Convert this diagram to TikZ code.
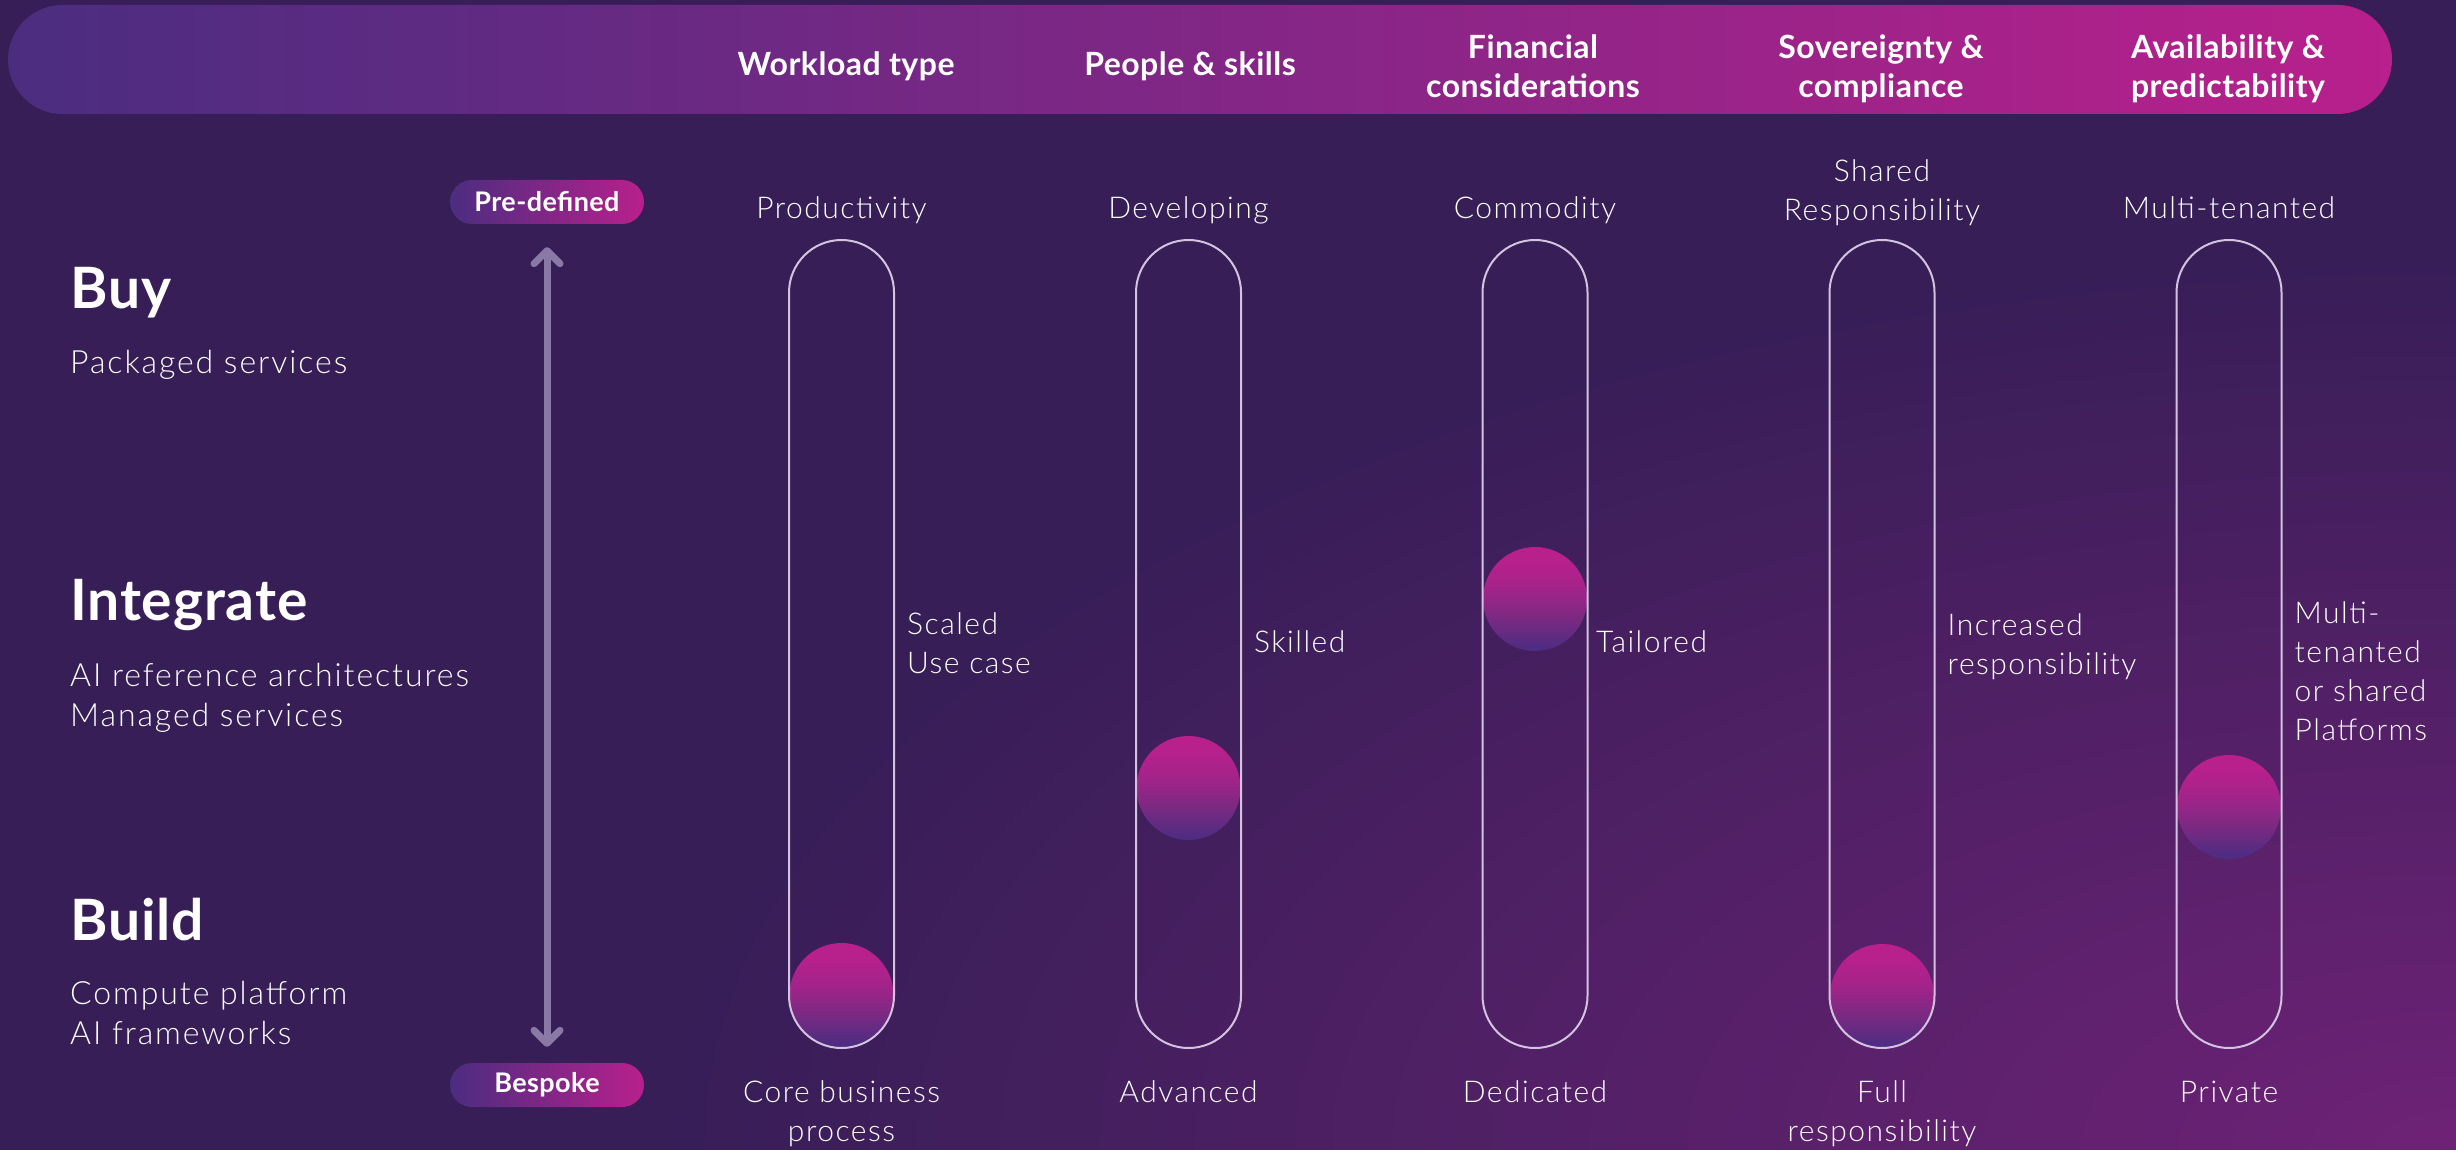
\documentclass[tikz,border=0pt]{standalone}
\usepackage{fontspec}
\setmainfont{Lato}[LetterSpace=1.5]
\newfontfamily\lightf{Lato Light}[LetterSpace=5]
\newfontfamily\lightg{Lato Light}[LetterSpace=6]
\usetikzlibrary{arrows.meta}
\definecolor{bgA}{HTML}{371E57}
\definecolor{bgB}{HTML}{6E2276}
\definecolor{gradL}{HTML}{4B2D80}
\definecolor{gradR}{HTML}{B8208C}
\definecolor{ballT}{HTML}{B8208C}
\definecolor{ballU}{HTML}{A5238A}
\definecolor{ballM}{HTML}{7E2982}
\definecolor{ballB}{HTML}{4A2D82}
\definecolor{pillline}{HTML}{D2C4DE}
\definecolor{arrowc}{HTML}{8A78A6}
\pgfdeclareverticalshading{ballshade}{100bp}{color(0bp)=(ballB); color(25bp)=(ballB); color(42bp)=(ballM); color(56bp)=(ballU); color(68bp)=(ballT); color(100bp)=(ballT)}
\begin{document}
\begin{tikzpicture}[x=1pt,y=-1pt,
 hdr/.style={font=\bfseries\fontsize{32}{39}\selectfont, text=white, inner sep=0pt, align=center, anchor=north, execute at begin node=\strut},
 lbl/.style={font=\lightf\fontsize{30}{39}\selectfont, text=white, inner sep=0pt, align=center, anchor=north, execute at begin node=\strut},
 sidelbl/.style={lbl, align=left, anchor=north west},
 tier/.style={font=\bfseries\fontsize{57}{68}\selectfont, text=white, inner sep=0pt, anchor=base west},
 tiersub/.style={font=\lightg\fontsize{32}{40}\selectfont, text=white, inner sep=0pt, align=left, anchor=north west, execute at begin node=\strut},
 tag/.style={rectangle, rounded corners=22pt, minimum width=194pt, minimum height=44pt, inner sep=0pt, left color=gradL, right color=gradR, text=white, font=\bfseries\fontsize{27}{30}\selectfont},
 tube/.style={draw=pillline, line width=2pt, rectangle, rounded corners=52.5pt, minimum width=105pt, minimum height=808pt, inner sep=0pt},
 ball/.style={circle, minimum size=104pt, inner sep=0pt, shade, shading=ballshade},
 scalearrow/.style={draw=arrowc, line width=7pt, line cap=round, {Straight Barb[round,length=13pt,width=26pt]}-{Straight Barb[round,length=13pt,width=26pt]}}
]
\useasboundingbox (0,0) rectangle (2456,1150);
% background
\fill[bgA] (0,0) rectangle (2456,1150);
\begin{scope}
\clip (0,0) rectangle (2456,1150);
\shade[inner color=bgB, outer color=bgA] (2456,1150) ellipse [x radius=1800pt, y radius=900pt];
\end{scope}

% header bar
\node[rectangle, rounded corners=54.5pt, minimum width=2384pt, minimum height=109pt, inner sep=0pt, left color=gradL, right color=gradR] (bar) at (1200,59.5) {};
\node[hdr] (hWork) at (846,48.4) {Workload type};
\node[hdr] (hPeople) at (1190,48.4) {People \& skills};
\node[hdr] (hFin) at (1533,35) {Financial\\considerations};
\node[hdr] (hSov) at (1881,35) {Sovereignty \&\\compliance};
\node[hdr] (hAvail) at (2228,35) {Availability \&\\predictability};

% left tiers
\node[tier] (lBuy) at (70,308) {Buy};
\node[tiersub] (lBuySub) at (70,345) {Packaged services};
\node[tier] (lInt) at (70,620) {Integrate};
\node[tiersub] (lIntSub) at (70,663) {AI reference architectures\\Managed services};
\node[tier] (lBuild) at (70,940) {Build};
\node[tiersub] (lBuildSub) at (70,981) {Compute platform\\AI frameworks};

% scale
\node[tag] (pre) at (547,202) {Pre-defined};
\node[tag] (besp) at (547,1085) {Bespoke};
\draw[scalearrow, shorten <=23pt, shorten >=16pt] (pre.south) -- (besp.north);

% balls
\node[ball] (b1) at (841.5,995) {};
\node[ball] (b2) at (1188.5,788) {};
\node[ball] (b3) at (1535,599) {};
\node[ball] (b4) at (1882,996) {};
\node[ball] (b5) at (2229,807) {};

% tubes
\node[tube] (p1) at (841.5,644) {};
\node[tube] (p2) at (1188.5,644) {};
\node[tube] (p3) at (1535,644) {};
\node[tube] (p4) at (1882,644) {};
\node[tube] (p5) at (2229,644) {};

% top labels
\node[lbl] (t1) at (841.5,190.7) {Productivity};
\node[lbl] (t2) at (1188.5,190.7) {Developing};
\node[lbl] (t3) at (1535,190.7) {Commodity};
\node[lbl] (t4) at (1882,159.7) {Shared\\Responsibility};
\node[lbl] (t5) at (2229,190.7) {Multi-tenanted};

% bottom labels
\node[lbl] (d1) at (841.5,1080.7) {Core business\\process};
\node[lbl] (d2) at (1188.5,1074.7) {Advanced};
\node[lbl] (d3) at (1535,1074.7) {Dedicated};
\node[lbl] (d4) at (1882,1080.7) {Full\\responsibility};
\node[lbl] (d5) at (2229,1074.7) {Private};

% side labels
\node[sidelbl] (s1) at (907,612.7) {Scaled\\Use case};
\node[sidelbl] (s2) at (1254,624.7) {Skilled};
\node[sidelbl] (s3) at (1596,624.7) {Tailored};
\node[sidelbl] (s4) at (1947.5,613.7) {Increased\\responsibility};
\node[sidelbl] (s5) at (2294.5,601.7) {Multi-\\tenanted\\or shared\\Platforms};
\end{tikzpicture}
\end{document}
